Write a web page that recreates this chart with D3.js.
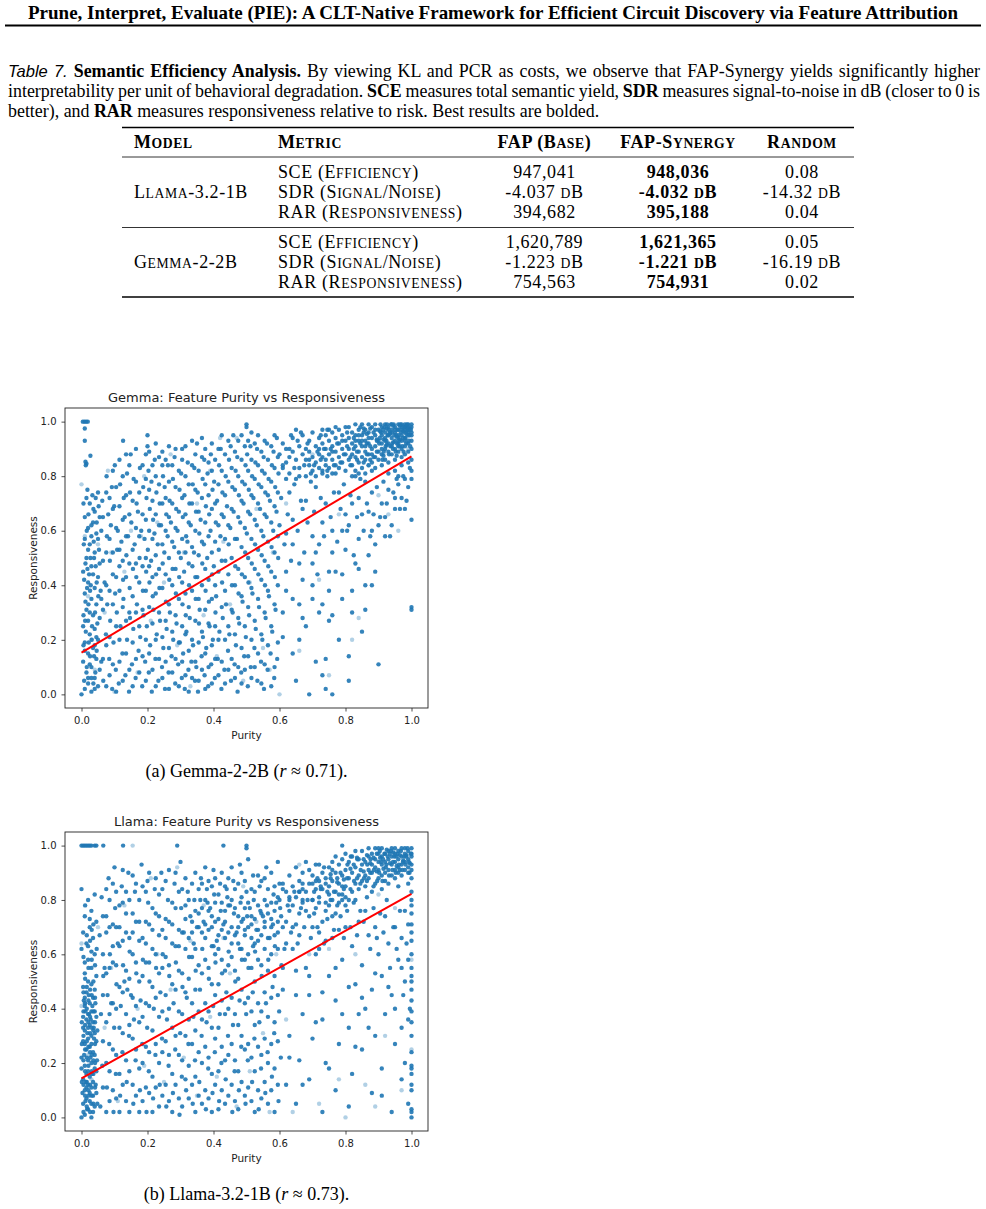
<!DOCTYPE html>
<html>
<head>
<meta charset="utf-8">
<script src="https://cdn.jsdelivr.net/npm/d3@7"></script>
<style>body{margin:0;background:#fff}</style>
</head>
<body>
<svg id="page" width="986" height="1209"></svg>
<script>
var headerTitle = "Prune, Interpret, Evaluate (PIE): A CLT-Native Framework for Efficient Circuit Discovery via Feature Attribution";

// table
var tableHead = ["Model", "Metric", "FAP (Base)", "FAP-Synergy", "Random"];
var tableModels = ["Llama-3.2-1B", "Gemma-2-2B"];
var tableMetrics = ["SCE (Efficiency)", "SDR (Signal/Noise)", "RAR (Responsiveness)"];
var fapBase = ["947,041", "-4.037 dB", "394,682", "1,620,789", "-1.223 dB", "754,563"];
var fapSynergy = ["948,036", "-4.032 dB", "395,188", "1,621,365", "-1.221 dB", "754,931"];
var randomVals = ["0.08", "-14.32 dB", "0.04", "0.05", "-16.19 dB", "0.02"];

var axisTicks = [0, 0.2, 0.4, 0.6, 0.8, 1.0];

// regression line: responsiveness at purity 0 and 1
var gemmaFit = [0.153, 0.873];
var llamaFit = [0.144, 0.822];

// ---- Gemma points (purity, responsiveness) ----
var gemmaTop = [[0.004,1.0],[0.009,1.0],[0.014,1.0],[0.019,1.0],[0.01,0.975],[0.01,0.93],[0.012,0.853],[0.015,0.846],[0.027,0.875],[0.013,0.84]];
var gemmaColumn = [[0.0,0.0],[0.01,0.02],[0.02,0.04],[0.03,0.01],[0.04,0.06],[0.05,0.03],[0.015,0.08],[0.03,0.1],[0.005,0.12],[0.045,0.13],
  [0.02,0.15],[0.035,0.17],[0.01,0.19],[0.05,0.2],[0.025,0.22],[0.04,0.24],[0.005,0.25],[0.02,0.27],[0.035,0.29],[0.015,0.31],
  [0.045,0.33],[0.03,0.35],[0.01,0.37],[0.04,0.39],[0.02,0.41],[0.05,0.43],[0.005,0.45],[0.03,0.47],[0.015,0.5],[0.04,0.52],
  [0.025,0.55],[0.01,0.57],[0.045,0.59],[0.02,0.61],[0.035,0.63],[0.01,0.65],[0.04,0.67],[0.025,0.7],[0.015,0.72],[0.05,0.74],
  [0.03,0.06],[0.055,0.09],[0.01,0.16],[0.04,0.18],[0.025,0.3],[0.055,0.28],[0.02,0.06],[0.045,0.21],[0.035,0.44],[0.055,0.48],
  [0.02,0.53],[0.05,0.57],[0.03,0.62],[0.055,0.65],[0.04,0.02],[0.025,0.11],[0.012,0.34],[0.058,0.38],[0.038,0.14],[0.008,0.05],
  [0.048,0.26],[0.028,0.4],[0.018,0.46],[0.052,0.69],[0.033,0.73],[0.06,0.6],[0.06,0.12],[0.06,0.35],[0.013,0.23],[0.042,0.08],
  [0.022,0.19],[0.006,0.29],[0.032,0.25],[0.017,0.39],[0.043,0.47],[0.007,0.55],[0.027,0.5],[0.037,0.56],
  [0.016,0.1],[0.036,0.04],[0.026,0.14],[0.046,0.16],[0.006,0.18],[0.031,0.2],[0.011,0.27],[0.041,0.3],[0.021,0.33],[0.051,0.36],
  [0.026,0.38],[0.008,0.42],[0.046,0.41],[0.023,0.44],[0.012,0.48],[0.038,0.5],[0.053,0.53],[0.03,0.58],[0.016,0.6],[0.046,0.63],
  [0.021,0.66],[0.036,0.68],[0.006,0.7],[0.043,0.72],[0.018,0.75]];
var gemmaScatter = [[0.066,0.05],[0.074,0.22],[0.07,0.41],[0.077,0.58],[0.063,0.71],
  [0.084,0.13],[0.078,0.33],[0.086,0.49],[0.081,0.66],[0.076,0.8],
  [0.093,0.02],[0.087,0.27],[0.095,0.44],[0.089,0.62],[0.092,0.76],
  [0.104,0.09],[0.097,0.19],[0.102,0.37],[0.108,0.53],[0.099,0.69],[0.101,0.84],
  [0.113,0.04],[0.107,0.3],[0.115,0.47],[0.11,0.6],[0.117,0.77],
  [0.124,0.15],[0.118,0.25],[0.126,0.42],[0.121,0.56],[0.128,0.72],[0.126,0.93],
  [0.133,0.07],[0.127,0.35],[0.136,0.51],[0.131,0.65],[0.138,0.81],
  [0.144,0.01],[0.138,0.2],[0.146,0.39],[0.141,0.58],[0.147,0.74],
  [0.153,0.11],[0.147,0.28],[0.156,0.46],[0.151,0.63],[0.158,0.79],[0.149,0.88],
  [0.164,0.06],[0.157,0.24],[0.166,0.43],[0.161,0.55],[0.167,0.7],
  [0.173,0.16],[0.168,0.33],[0.176,0.5],[0.171,0.67],[0.177,0.83],
  [0.184,0.03],[0.178,0.21],[0.186,0.38],[0.181,0.6],[0.187,0.76],
  [0.193,0.12],[0.188,0.29],[0.196,0.45],[0.191,0.57],[0.197,0.72],[0.2,0.91],
  [0.204,0.08],[0.198,0.25],[0.206,0.41],[0.201,0.53],[0.207,0.68],[0.203,0.82],[0.2,0.95],
  [0.213,0.01],[0.208,0.18],[0.216,0.36],[0.211,0.49],[0.217,0.64],[0.212,0.78],
  [0.224,0.13],[0.218,0.31],[0.226,0.44],[0.221,0.59],[0.227,0.74],[0.222,0.86],
  [0.233,0.05],[0.228,0.22],[0.236,0.39],[0.231,0.55],[0.237,0.7],
  [0.244,0.1],[0.238,0.27],[0.246,0.48],[0.241,0.62],[0.247,0.8],[0.245,0.89],
  [0.253,0.02],[0.248,0.17],[0.256,0.34],[0.251,0.52],[0.257,0.66],[0.252,0.76],
  [0.264,0.08],[0.258,0.24],[0.266,0.42],[0.261,0.58],[0.267,0.71],[0.262,0.84],
  [0.273,0.14],[0.268,0.3],[0.276,0.46],[0.271,0.63],[0.277,0.79],
  [0.284,0.04],[0.278,0.2],[0.286,0.37],[0.281,0.54],[0.287,0.68],[0.282,0.87],
  [0.293,0.11],[0.288,0.26],[0.296,0.43],[0.291,0.6],[0.297,0.75],
  [0.304,0.06],[0.298,0.19],[0.306,0.33],[0.301,0.5],[0.307,0.65],[0.302,0.81],[0.305,0.9],
  [0.313,0.02],[0.308,0.15],[0.316,0.29],[0.311,0.45],[0.317,0.58],[0.312,0.73],
  [0.324,0.09],[0.318,0.23],[0.326,0.4],[0.321,0.56],[0.327,0.7],[0.322,0.85],
  [0.333,0.12],[0.328,0.28],[0.336,0.47],[0.331,0.62],[0.337,0.77],
  [0.344,0.05],[0.338,0.18],[0.346,0.35],[0.341,0.52],[0.347,0.67],[0.342,0.83],
  [0.353,0.01],[0.348,0.1],[0.356,0.26],[0.351,0.43],[0.357,0.59],[0.352,0.74],[0.35,0.92],
  [0.364,0.14],[0.358,0.31],[0.366,0.48],[0.361,0.64],[0.367,0.79],
  [0.373,0.07],[0.368,0.21],[0.376,0.38],[0.371,0.55],[0.377,0.69],[0.372,0.86],
  [0.384,0.03],[0.378,0.17],[0.386,0.34],[0.381,0.5],[0.387,0.66],[0.382,0.81],
  [0.393,0.11],[0.388,0.25],[0.396,0.44],[0.391,0.6],[0.397,0.75],[0.392,0.88],
  [0.404,0.06],[0.398,0.2],[0.406,0.3],[0.401,0.47],[0.407,0.63],[0.402,0.78],
  [0.413,0.13],[0.408,0.36],[0.416,0.53],[0.411,0.71],[0.417,0.84],
  [0.424,0.02],[0.418,0.23],[0.426,0.41],[0.421,0.58],[0.427,0.74],[0.422,0.9],
  [0.433,0.09],[0.428,0.28],[0.436,0.49],[0.431,0.65],[0.437,0.8],
  [0.444,0.16],[0.438,0.33],[0.446,0.55],[0.441,0.69],[0.447,0.86],
  [0.453,0.05],[0.448,0.22],[0.456,0.4],[0.451,0.61],[0.457,0.76],[0.452,0.91],
  [0.464,0.11],[0.458,0.3],[0.466,0.47],[0.461,0.67],[0.467,0.82],[0.46,0.95],
  [0.473,0.01],[0.468,0.18],[0.476,0.37],[0.471,0.57],[0.477,0.73],[0.472,0.87],
  [0.484,0.08],[0.478,0.26],[0.486,0.44],[0.481,0.63],[0.487,0.78],
  [0.493,0.14],[0.488,0.34],[0.496,0.52],[0.491,0.7],[0.497,0.84],
  [0.504,0.03],[0.498,0.21],[0.506,0.41],[0.501,0.59],[0.507,0.75],[0.502,0.88],[0.5,0.98],[0.5,0.99],
  [0.513,0.1],[0.508,0.29],[0.516,0.48],[0.511,0.66],[0.517,0.8],[0.512,0.91],
  [0.524,0.17],[0.518,0.37],[0.526,0.55],[0.521,0.72],[0.527,0.85],
  [0.533,0.05],[0.528,0.24],[0.536,0.44],[0.531,0.62],[0.537,0.77],[0.532,0.9],
  [0.544,0.12],[0.538,0.32],[0.546,0.51],[0.541,0.68],[0.547,0.82],
  [0.553,0.02],[0.548,0.2],[0.556,0.4],[0.551,0.58],[0.557,0.74],[0.552,0.87],
  [0.564,0.09],[0.558,0.28],[0.566,0.47],[0.561,0.65],[0.567,0.79],[0.562,0.92],
  [0.573,0.15],[0.568,0.36],[0.576,0.54],[0.571,0.71],[0.577,0.84],
  [0.584,0.06],[0.578,0.23],[0.586,0.43],[0.581,0.6],[0.587,0.76],[0.582,0.89],
  [0.593,0.13],[0.588,0.31],[0.596,0.5],[0.591,0.67],[0.597,0.81],[0.592,0.94]];
var gemmaScatter2 = [[0.065,0.13],[0.065,0.31],[0.065,0.49],[0.065,0.65],
  [0.075,0.03],[0.075,0.18],[0.075,0.4],[0.075,0.52],[0.075,0.74],
  [0.085,0.07],[0.085,0.21],[0.085,0.38],[0.085,0.57],[0.085,0.72],
  [0.095,0.11],[0.095,0.33],[0.095,0.52],[0.095,0.68],[0.095,0.82],
  [0.105,0.01],[0.105,0.25],[0.105,0.43],[0.105,0.61],[0.105,0.76],
  [0.115,0.12],[0.115,0.2],[0.115,0.38],[0.115,0.53],[0.115,0.69],[0.115,0.86],
  [0.125,0.05],[0.125,0.32],[0.125,0.49],[0.125,0.64],[0.125,0.8],
  [0.135,0.15],[0.135,0.27],[0.135,0.43],[0.135,0.58],[0.135,0.73],[0.135,0.88],
  [0.145,0.09],[0.145,0.3],[0.145,0.48],[0.145,0.66],[0.145,0.84],
  [0.155,0.03],[0.155,0.19],[0.155,0.36],[0.155,0.53],[0.155,0.71],
  [0.165,0.13],[0.165,0.3],[0.165,0.48],[0.165,0.61],[0.165,0.78],[0.165,0.9],
  [0.175,0.08],[0.175,0.25],[0.175,0.41],[0.175,0.58],[0.175,0.74],
  [0.185,0.14],[0.185,0.31],[0.185,0.47],[0.185,0.66],[0.185,0.84],
  [0.195,0.05],[0.195,0.2],[0.195,0.38],[0.195,0.5],[0.195,0.64],[0.195,0.79],[0.195,0.88],
  [0.205,0.15],[0.205,0.32],[0.205,0.47],[0.205,0.6],[0.205,0.75],[0.205,0.89],
  [0.215,0.09],[0.215,0.26],[0.215,0.43],[0.215,0.57],[0.215,0.71],[0.215,0.84],
  [0.225,0.03],[0.225,0.2],[0.225,0.37],[0.225,0.51],[0.225,0.66],[0.225,0.8],[0.225,0.92],
  [0.235,0.13],[0.235,0.3],[0.235,0.46],[0.235,0.62],[0.235,0.77],[0.235,0.87],
  [0.245,0.06],[0.245,0.21],[0.245,0.39],[0.245,0.55],[0.245,0.7],[0.245,0.84],
  [0.255,0.12],[0.255,0.27],[0.255,0.44],[0.255,0.6],[0.255,0.72],[0.255,0.86],
  [0.265,0.02],[0.265,0.17],[0.265,0.33],[0.265,0.5],[0.265,0.65],[0.265,0.78],[0.265,0.91],
  [0.275,0.08],[0.275,0.23],[0.275,0.4],[0.275,0.56],[0.275,0.7],[0.275,0.84],
  [0.285,0.13],[0.285,0.29],[0.285,0.46],[0.285,0.61],[0.285,0.76],[0.285,0.9],
  [0.295,0.03],[0.295,0.19],[0.295,0.35],[0.295,0.52],[0.295,0.67],[0.295,0.82],
  [0.305,0.12],[0.305,0.25],[0.305,0.41],[0.305,0.57],[0.305,0.72],[0.305,0.86],
  [0.315,0.07],[0.315,0.22],[0.315,0.37],[0.315,0.52],[0.315,0.66],[0.315,0.8],[0.315,0.91],
  [0.325,0.01],[0.325,0.16],[0.325,0.32],[0.325,0.48],[0.325,0.63],[0.325,0.77],
  [0.335,0.06],[0.335,0.2],[0.335,0.38],[0.335,0.54],[0.335,0.7],[0.335,0.84],[0.335,0.93],
  [0.345,0.12],[0.345,0.27],[0.345,0.43],[0.345,0.6],[0.345,0.75],[0.345,0.88],
  [0.355,0.05],[0.355,0.19],[0.355,0.35],[0.355,0.51],[0.355,0.67],[0.355,0.82],
  [0.365,0.09],[0.365,0.23],[0.365,0.4],[0.365,0.56],[0.365,0.72],[0.365,0.87],[0.365,0.94],
  [0.375,0.02],[0.375,0.15],[0.375,0.31],[0.375,0.46],[0.375,0.63],[0.375,0.77],[0.375,0.9],
  [0.385,0.1],[0.385,0.26],[0.385,0.42],[0.385,0.58],[0.385,0.73],[0.385,0.85],
  [0.395,0.04],[0.395,0.18],[0.395,0.35],[0.395,0.52],[0.395,0.68],[0.395,0.82],[0.395,0.92],
  [0.405,0.13],[0.405,0.25],[0.405,0.4],[0.405,0.56],[0.405,0.7],[0.405,0.86],
  [0.415,0.07],[0.415,0.2],[0.415,0.45],[0.415,0.62],[0.415,0.77],[0.415,0.9],
  [0.425,0.12],[0.425,0.32],[0.425,0.49],[0.425,0.66],[0.425,0.82],[0.425,0.95],
  [0.435,0.04],[0.435,0.2],[0.435,0.38],[0.435,0.57],[0.435,0.73],[0.435,0.88],
  [0.445,0.09],[0.445,0.25],[0.445,0.44],[0.445,0.62],[0.445,0.78],[0.445,0.93],
  [0.455,0.13],[0.455,0.31],[0.455,0.5],[0.455,0.68],[0.455,0.83],
  [0.465,0.06],[0.465,0.22],[0.465,0.4],[0.465,0.57],[0.465,0.75],[0.465,0.89],
  [0.475,0.1],[0.475,0.28],[0.475,0.46],[0.475,0.65],[0.475,0.8],[0.475,0.93],
  [0.485,0.04],[0.485,0.17],[0.485,0.36],[0.485,0.54],[0.485,0.71],[0.485,0.86],[0.485,0.95],
  [0.495,0.09],[0.495,0.25],[0.495,0.43],[0.495,0.61],[0.495,0.77],[0.495,0.91],
  [0.505,0.14],[0.505,0.32],[0.505,0.5],[0.505,0.67],[0.505,0.82],[0.505,0.93],
  [0.515,0.06],[0.515,0.2],[0.515,0.39],[0.515,0.57],[0.515,0.73],[0.515,0.86],[0.515,0.96],
  [0.525,0.1],[0.525,0.27],[0.525,0.46],[0.525,0.64],[0.525,0.79],[0.525,0.92],
  [0.535,0.15],[0.535,0.35],[0.535,0.53],[0.535,0.7],[0.535,0.84],[0.535,0.95],
  [0.545,0.04],[0.545,0.22],[0.545,0.42],[0.545,0.6],[0.545,0.76],[0.545,0.89],
  [0.555,0.11],[0.555,0.3],[0.555,0.49],[0.555,0.66],[0.555,0.81],[0.555,0.93],
  [0.565,0.18],[0.565,0.38],[0.565,0.56],[0.565,0.73],[0.565,0.86],
  [0.575,0.03],[0.575,0.25],[0.575,0.45],[0.575,0.63],[0.575,0.78],[0.575,0.91],
  [0.585,0.1],[0.585,0.33],[0.585,0.52],[0.585,0.69],[0.585,0.83],[0.585,0.95],
  [0.595,0.19],[0.595,0.4],[0.595,0.58],[0.595,0.74],[0.595,0.87]];
var gemmaRight = [[0.61,0.21],[0.62,0.45],[0.6,0.62],[0.63,0.74],[0.61,0.83],[0.64,0.15],[0.65,0.05],[0.66,0.33],[0.64,0.55],[0.67,0.68],
  [0.65,0.79],[0.68,0.25],[0.69,0.0],[0.67,0.42],[0.7,0.58],[0.68,0.71],[0.69,0.86],[0.62,0.38],[0.66,0.2],[0.63,0.9],
  [0.71,0.12],[0.72,0.3],[0.7,0.48],[0.73,0.63],[0.71,0.76],[0.74,0.02],[0.73,0.07],[0.74,0.13],[0.75,0.38],[0.76,0.52],
  [0.74,0.7],[0.77,0.81],[0.76,0.0],[0.78,0.2],[0.77,0.45],[0.79,0.6],[0.78,0.74],[0.75,0.27],[0.72,0.55],[0.79,0.35],
  [0.8,0.66],[0.73,0.82],[0.81,0.05],[0.81,0.14],[0.82,0.3],[0.83,0.48],[0.81,0.62],[0.84,0.72],[0.85,0.23],[0.86,0.4],
  [0.84,0.57],[0.87,0.67],[0.88,0.4],[0.86,0.78],[0.89,0.55],[0.88,0.74],[0.83,0.8],[0.9,0.11],[0.9,0.62],[0.87,0.51],
  [0.82,0.7],[0.91,0.7],[0.92,0.58],[0.93,0.75],[0.95,0.68],[0.96,0.8],[0.94,0.62],[0.97,0.72],[0.98,0.79],[0.99,0.76],
  [1.0,0.79],[1.0,0.64],[1.0,0.32],[1.0,0.31],[0.96,0.77],[0.93,0.81],[0.64,0.64],[0.7,0.35],[0.76,0.6],[0.85,0.66],
  [0.605,0.72],[0.615,0.55],[0.625,0.66],[0.635,0.49],[0.645,0.77],[0.655,0.6],[0.665,0.71],[0.675,0.52],[0.685,0.63],[0.695,0.78],
  [0.705,0.67],[0.715,0.44],[0.725,0.72],[0.735,0.58],[0.745,0.8],[0.755,0.65],[0.765,0.74],[0.775,0.56],[0.785,0.68],[0.795,0.77],
  [0.805,0.6],[0.815,0.73],[0.825,0.51],[0.835,0.65],[0.845,0.79],[0.855,0.6],[0.865,0.7],[0.875,0.58],[0.885,0.66],[0.895,0.76],
  [0.905,0.65],[0.915,0.78],[0.925,0.7],[0.935,0.58],[0.945,0.74],[0.955,0.79],[0.965,0.68],[0.975,0.8],[0.985,0.71],[0.995,0.83],
  [0.61,0.3],[0.64,0.35],[0.67,0.28],[0.7,0.4],[0.73,0.33],[0.76,0.29],[0.79,0.44],[0.82,0.38],[0.86,0.31],[0.89,0.45],
  [0.62,0.59],[0.66,0.48],[0.71,0.52],[0.75,0.45],[0.8,0.53],[0.84,0.46],[0.88,0.6],[0.92,0.65],[0.95,0.72],[0.98,0.68]];
var gemmaBlob = [[0.6,0.88],[0.61,0.92],[0.62,0.85],[0.63,0.81],[0.64,0.89],[0.64,0.94],[0.65,0.86],[0.66,0.91],[0.66,0.83],[0.67,0.88],
  [0.67,0.95],[0.68,0.8],[0.68,0.9],[0.69,0.84],[0.69,0.93],[0.7,0.87],[0.7,0.96],[0.62,0.79],[0.65,0.97],[0.63,0.87],
  [0.61,0.84],[0.66,0.8],[0.68,0.86],[0.7,0.82],[0.69,0.89],
  [0.71,0.85],[0.71,0.91],[0.72,0.88],[0.72,0.94],[0.72,0.83],[0.73,0.87],[0.73,0.92],[0.73,0.97],[0.74,0.86],[0.74,0.9],
  [0.74,0.95],[0.75,0.83],[0.75,0.88],[0.75,0.93],[0.76,0.86],[0.76,0.91],[0.76,0.96],[0.77,0.84],[0.77,0.89],[0.77,0.94],
  [0.78,0.87],[0.78,0.92],[0.78,0.97],[0.79,0.85],[0.79,0.9],[0.79,0.95],[0.8,0.88],[0.8,0.93],[0.8,0.82],[0.8,0.98],
  [0.71,0.8],[0.73,0.81],[0.76,0.81],[0.78,0.83],[0.75,0.97],[0.77,0.98],[0.72,0.9],[0.74,0.84],[0.79,0.93],[0.76,0.89],
  [0.81,0.86],[0.81,0.9],[0.81,0.94],[0.82,0.88],[0.82,0.92],[0.82,0.96],[0.82,0.84],[0.83,0.87],[0.83,0.91],[0.83,0.95],
  [0.83,0.99],[0.84,0.85],[0.84,0.89],[0.84,0.93],[0.84,0.97],[0.85,0.87],[0.85,0.91],[0.85,0.95],[0.85,0.83],[0.86,0.89],
  [0.86,0.93],[0.86,0.97],[0.86,0.86],[0.87,0.88],[0.87,0.92],[0.87,0.96],[0.87,0.99],[0.88,0.85],[0.88,0.9],[0.88,0.94],
  [0.88,0.98],[0.89,0.87],[0.89,0.91],[0.89,0.95],[0.89,0.83],[0.9,0.89],[0.9,0.93],[0.9,0.97],[0.9,0.86],[0.81,0.98],
  [0.84,0.81],[0.86,0.81],[0.87,0.84],[0.85,0.99],[0.83,0.82],[0.88,0.82],[0.89,0.99],[0.82,0.8],[0.86,0.91],[0.84,0.95],
  [0.87,0.94],[0.88,0.88],[0.85,0.93],[0.83,0.93],[0.89,0.97],
  [0.91,0.88],[0.91,0.92],[0.91,0.95],[0.91,0.98],[0.92,0.9],[0.92,0.93],[0.92,0.96],[0.92,0.99],[0.92,0.86],[0.93,0.89],
  [0.93,0.92],[0.93,0.95],[0.93,0.98],[0.94,0.88],[0.94,0.91],[0.94,0.94],[0.94,0.97],[0.94,0.99],[0.95,0.9],[0.95,0.93],
  [0.95,0.96],[0.95,0.98],[0.95,0.86],[0.96,0.89],[0.96,0.92],[0.96,0.95],[0.96,0.97],[0.96,0.99],[0.97,0.9],[0.97,0.93],
  [0.97,0.95],[0.97,0.97],[0.97,0.99],[0.97,0.87],[0.98,0.91],[0.98,0.94],[0.98,0.96],[0.98,0.98],[0.98,0.99],[0.98,0.88],
  [0.99,0.92],[0.99,0.95],[0.99,0.97],[0.99,0.98],[0.99,0.99],[0.99,0.89],[1.0,0.93],[1.0,0.96],[1.0,0.98],[1.0,0.99],
  [1.0,0.9],[1.0,0.86],[0.91,0.84],[0.93,0.85],[0.95,0.82],[0.97,0.84],[0.99,0.85],[1.0,0.82],[0.92,0.94],[0.94,0.96],
  [0.96,0.94],[0.98,0.97],[0.95,0.97],[0.97,0.98],[0.99,0.96],[0.93,0.97],[0.91,0.9],[0.96,0.91],[0.98,0.93],[1.0,0.95],
  [0.905,0.965],[0.915,0.935],[0.925,0.975],[0.935,0.955],[0.945,0.985],[0.955,0.945],[0.965,0.985],[0.975,0.965],[0.985,0.985],[0.995,0.975],
  [0.925,0.915],[0.945,0.925],[0.965,0.935],[0.985,0.955],[0.875,0.975],[0.865,0.955],[0.855,0.975],[0.895,0.935],[0.915,0.875],[0.955,0.875],
  [0.705,0.84],[0.715,0.89],[0.725,0.86],[0.735,0.9],[0.745,0.82],[0.755,0.9],[0.765,0.84],[0.775,0.92],[0.785,0.85],[0.795,0.88],
  [0.805,0.91],[0.815,0.84],[0.825,0.94],[0.835,0.89],[0.845,0.92],[0.855,0.85],[0.865,0.88],[0.875,0.91],[0.885,0.87],[0.895,0.93],
  [0.805,0.96],[0.815,0.87],[0.825,0.9],[0.835,0.86],[0.845,0.98],[0.855,0.96],[0.865,0.92],[0.875,0.86],[0.885,0.96],[0.895,0.89],
  [0.902,0.92],[0.908,0.96],[0.912,0.86],[0.918,0.98],[0.922,0.91],[0.928,0.95],[0.932,0.88],[0.938,0.99],[0.942,0.92],[0.948,0.95],
  [0.952,0.89],[0.958,0.97],[0.962,0.93],[0.968,0.96],[0.972,0.91],[0.978,0.98],[0.982,0.94],[0.988,0.97],[0.992,0.93],[0.998,0.97],
  [0.904,0.94],[0.914,0.97],[0.924,0.93],[0.934,0.96],[0.944,0.9],[0.954,0.95],[0.964,0.91],[0.974,0.94],[0.984,0.92],[0.994,0.95],
  [0.906,0.99],[0.926,0.99],[0.946,0.99],[0.966,0.99],[0.986,0.99],[0.916,0.89],[0.936,0.91],[0.956,0.92],[0.976,0.89],[0.996,0.91],
  [0.62,0.9],[0.645,0.83],[0.655,0.93],[0.675,0.84],[0.685,0.92],[0.695,0.81],[0.635,0.95],[0.665,0.96],[0.725,0.95],[0.745,0.97]];
var gemmaLight = [[0.0,0.77],[0.01,0.58],[0.03,0.2],[0.02,0.36],[0.04,0.09],[0.07,0.3],[0.09,0.52],[0.1,0.01],[0.13,0.45],[0.15,0.6],
  [0.17,0.08],[0.19,0.8],[0.21,0.27],[0.23,0.63],[0.25,0.41],[0.27,0.88],[0.29,0.18],[0.31,0.52],[0.33,0.03],[0.35,0.7],
  [0.37,0.29],[0.39,0.82],[0.41,0.14],[0.43,0.56],[0.45,0.33],[0.47,0.94],[0.49,0.05],[0.51,0.41],[0.53,0.68],[0.55,0.17],
  [0.57,0.09],[0.58,0.52],[0.6,0.0],[0.62,0.7],[0.66,0.16],[0.7,0.88],[0.72,0.42],[0.75,0.07],[0.78,0.66],[0.82,0.2],
  [0.84,0.28],[0.87,0.84],[0.9,0.73],[0.93,0.66],[0.96,0.6],[0.99,0.9],[0.42,0.94],[0.18,0.58],[0.08,0.82],[0.05,0.55]];

// ---- Llama points (purity, responsiveness) ----
var llamaTop = [[0.0,1.0],[0.005,1.0],[0.01,1.0],[0.015,1.0],[0.02,1.0],[0.025,1.0],[0.03,1.0],[0.04,1.0],[0.045,1.0],[0.066,1.0],
  [0.126,1.0],[0.29,1.0],[0.43,1.0],[0.5,1.0],[0.5,0.99],[0.79,1.0]];
var llamaColumn = [[0.0,0.0],[0.01,0.01],[0.02,0.03],[0.03,0.0],[0.005,0.05],[0.015,0.07],[0.025,0.06],[0.035,0.08],[0.04,0.04],[0.01,0.1],
  [0.02,0.12],[0.03,0.11],[0.005,0.14],[0.015,0.16],[0.025,0.15],[0.035,0.13],[0.045,0.17],[0.01,0.19],[0.02,0.21],[0.03,0.2],
  [0.0,0.22],[0.04,0.23],[0.015,0.25],[0.025,0.26],[0.035,0.24],[0.005,0.28],[0.02,0.29],[0.03,0.3],[0.01,0.32],[0.04,0.31],
  [0.025,0.34],[0.015,0.36],[0.035,0.35],[0.005,0.37],[0.02,0.38],[0.03,0.39],[0.045,0.37],[0.01,0.41],[0.025,0.42],[0.035,0.44],
  [0.015,0.46],[0.005,0.48],[0.03,0.49],[0.02,0.5],[0.04,0.47],[0.01,0.27],[0.02,0.17],[0.03,0.05],[0.04,0.18],[0.005,0.33],
  [0.045,0.28],[0.035,0.02],[0.015,0.11],[0.025,0.09],[0.0,0.18],[0.04,0.39],[0.01,0.44],[0.02,0.33],[0.03,0.27],[0.045,0.09],
  [0.012,0.06],[0.022,0.08],[0.032,0.16],[0.008,0.23],[0.018,0.31],[0.028,0.36],[0.038,0.29],[0.012,0.39],[0.022,0.45],[0.042,0.42],
  [0.027,0.22],[0.017,0.03],[0.037,0.33],[0.007,0.43],[0.047,0.21],[0.023,0.38],[0.033,0.41],[0.013,0.13],[0.043,0.12],[0.003,0.09],
  [0.01,0.53],[0.03,0.55],[0.02,0.58],[0.04,0.6],[0.0,0.62],[0.015,0.64],[0.035,0.66],[0.005,0.68],[0.025,0.7],[0.045,0.72],
  [0.01,0.74],[0.03,0.76],[0.02,0.8],[0.04,0.82],[0.0,0.84],[0.02,0.63],[0.03,0.61],[0.01,0.57],[0.045,0.52],[0.025,0.73],
  [0.006,0.02],[0.016,0.04],[0.026,0.02],[0.036,0.05],[0.011,0.08],[0.021,0.1],[0.031,0.08],[0.041,0.11],[0.006,0.12],[0.016,0.13],
  [0.026,0.12],[0.036,0.16],[0.011,0.17],[0.021,0.19],[0.031,0.17],[0.041,0.2],[0.006,0.21],[0.016,0.22],[0.026,0.24],[0.036,0.21],
  [0.011,0.25],[0.021,0.26],[0.031,0.23],[0.041,0.27],[0.006,0.3],[0.016,0.28],[0.026,0.31],[0.036,0.32],[0.011,0.34],[0.021,0.35],
  [0.031,0.33],[0.041,0.35],[0.006,0.39],[0.016,0.4],[0.026,0.37],[0.036,0.39],[0.011,0.42],[0.021,0.43],[0.031,0.45],[0.041,0.44],
  [0.006,0.46],[0.016,0.48],[0.026,0.47],[0.036,0.5],[0.011,0.51],[0.021,0.55],[0.031,0.58],[0.041,0.56],[0.006,0.59],[0.016,0.67],
  [0.026,0.65],[0.036,0.71],[0.011,0.78],[0.031,0.69],[0.046,0.62],[0.001,0.35],[0.001,0.27],[0.001,0.13],[0.048,0.05],[0.048,0.32]];
var llamaScatter = [[0.057,0.04],[0.063,0.19],[0.059,0.38],[0.066,0.52],[0.055,0.67],[0.061,0.81],
  [0.077,0.11],[0.084,0.27],[0.079,0.45],[0.086,0.6],[0.075,0.74],[0.082,0.88],
  [0.097,0.02],[0.104,0.16],[0.099,0.33],[0.106,0.49],[0.095,0.63],[0.102,0.77],[0.1,0.92],
  [0.117,0.08],[0.124,0.24],[0.119,0.41],[0.126,0.56],[0.115,0.7],[0.122,0.85],
  [0.137,0.13],[0.144,0.3],[0.139,0.47],[0.146,0.61],[0.135,0.75],[0.142,0.9],
  [0.157,0.05],[0.164,0.21],[0.159,0.36],[0.166,0.53],[0.155,0.68],[0.162,0.83],
  [0.177,0.1],[0.184,0.27],[0.179,0.43],[0.186,0.58],[0.175,0.72],[0.182,0.93],
  [0.197,0.02],[0.204,0.17],[0.199,0.33],[0.206,0.5],[0.195,0.64],[0.202,0.79],[0.2,0.87],
  [0.217,0.07],[0.224,0.23],[0.219,0.4],[0.226,0.55],[0.215,0.69],[0.222,0.84],
  [0.237,0.12],[0.244,0.29],[0.239,0.46],[0.246,0.6],[0.235,0.74],[0.242,0.9],
  [0.257,0.04],[0.264,0.19],[0.259,0.36],[0.266,0.52],[0.255,0.66],[0.262,0.8],
  [0.277,0.09],[0.284,0.25],[0.279,0.42],[0.286,0.57],[0.275,0.71],[0.282,0.86],
  [0.297,0.01],[0.304,0.15],[0.299,0.31],[0.306,0.48],[0.295,0.63],[0.302,0.77],[0.3,0.94],
  [0.317,0.1],[0.324,0.27],[0.319,0.44],[0.326,0.59],[0.315,0.73],[0.322,0.83],
  [0.337,0.05],[0.344,0.21],[0.339,0.37],[0.346,0.54],[0.335,0.68],[0.342,0.8],
  [0.357,0.13],[0.364,0.3],[0.359,0.47],[0.366,0.62],[0.355,0.75],[0.362,0.88],
  [0.377,0.03],[0.384,0.18],[0.379,0.35],[0.386,0.51],[0.375,0.66],[0.382,0.79],[0.38,0.84],
  [0.397,0.09],[0.404,0.24],[0.399,0.41],[0.406,0.57],[0.395,0.7],[0.402,0.82],[0.4,0.91],
  [0.417,0.06],[0.424,0.2],[0.419,0.38],[0.426,0.53],[0.415,0.67],[0.422,0.76],[0.42,0.86],
  [0.437,0.14],[0.444,0.3],[0.439,0.46],[0.446,0.61],[0.435,0.72],[0.442,0.81],
  [0.457,0.02],[0.464,0.17],[0.459,0.34],[0.466,0.5],[0.455,0.64],[0.462,0.75],[0.46,0.87],
  [0.477,0.1],[0.484,0.26],[0.479,0.43],[0.486,0.58],[0.475,0.7],[0.482,0.79],[0.48,0.93],
  [0.497,0.05],[0.504,0.21],[0.499,0.38],[0.506,0.55],[0.495,0.67],[0.502,0.74],[0.5,0.83],
  [0.517,0.13],[0.524,0.29],[0.519,0.46],[0.526,0.61],[0.515,0.71],[0.522,0.8],[0.52,0.89],
  [0.537,0.03],[0.544,0.18],[0.539,0.35],[0.546,0.52],[0.535,0.65],[0.542,0.76],[0.54,0.85],
  [0.557,0.09],[0.564,0.24],[0.559,0.42],[0.566,0.58],[0.555,0.7],[0.562,0.78],[0.56,0.92],
  [0.577,0.15],[0.584,0.31],[0.579,0.48],[0.586,0.63],[0.575,0.73],[0.582,0.82],
  [0.597,0.06],[0.604,0.22],[0.599,0.39],[0.606,0.56],[0.595,0.68],[0.602,0.77],[0.6,0.86]];
var llamaScatter2 = [[0.065,0.11],[0.065,0.28],[0.065,0.45],[0.065,0.6],[0.065,0.74],
  [0.075,0.02],[0.075,0.2],[0.075,0.35],[0.075,0.53],[0.075,0.68],[0.075,0.84],
  [0.085,0.06],[0.085,0.17],[0.085,0.38],[0.085,0.55],[0.085,0.7],[0.085,0.8],
  [0.095,0.1],[0.095,0.25],[0.095,0.42],[0.095,0.57],[0.095,0.71],[0.095,0.86],
  [0.105,0.07],[0.105,0.23],[0.105,0.4],[0.105,0.56],[0.105,0.7],[0.105,0.83],
  [0.115,0.02],[0.115,0.16],[0.115,0.33],[0.115,0.48],[0.115,0.63],[0.115,0.78],
  [0.125,0.12],[0.125,0.31],[0.125,0.46],[0.125,0.65],[0.125,0.79],[0.125,0.91],
  [0.135,0.06],[0.135,0.21],[0.135,0.38],[0.135,0.54],[0.135,0.68],[0.135,0.83],
  [0.145,0.02],[0.145,0.17],[0.145,0.34],[0.145,0.51],[0.145,0.66],[0.145,0.8],
  [0.155,0.12],[0.155,0.29],[0.155,0.44],[0.155,0.6],[0.155,0.75],[0.155,0.89],
  [0.165,0.08],[0.165,0.25],[0.165,0.41],[0.165,0.57],[0.165,0.72],[0.165,0.86],
  [0.175,0.02],[0.175,0.18],[0.175,0.35],[0.175,0.5],[0.175,0.65],[0.175,0.8],
  [0.185,0.06],[0.185,0.2],[0.185,0.37],[0.185,0.52],[0.185,0.66],[0.185,0.85],
  [0.195,0.11],[0.195,0.26],[0.195,0.42],[0.195,0.57],[0.195,0.72],[0.195,0.83],
  [0.205,0.09],[0.205,0.24],[0.205,0.41],[0.205,0.57],[0.205,0.71],[0.205,0.9],
  [0.215,0.02],[0.215,0.15],[0.215,0.32],[0.215,0.48],[0.215,0.62],[0.215,0.77],
  [0.225,0.11],[0.225,0.27],[0.225,0.44],[0.225,0.6],[0.225,0.75],[0.225,0.88],
  [0.235,0.04],[0.235,0.2],[0.235,0.37],[0.235,0.53],[0.235,0.67],[0.235,0.82],
  [0.245,0.08],[0.245,0.24],[0.245,0.39],[0.245,0.55],[0.245,0.69],[0.245,0.84],
  [0.255,0.12],[0.255,0.28],[0.255,0.45],[0.255,0.59],[0.255,0.73],[0.255,0.87],
  [0.265,0.06],[0.265,0.23],[0.265,0.4],[0.265,0.56],[0.265,0.72],[0.265,0.91],
  [0.275,0.02],[0.275,0.16],[0.275,0.33],[0.275,0.49],[0.275,0.64],[0.275,0.79],
  [0.285,0.12],[0.285,0.3],[0.285,0.47],[0.285,0.63],[0.285,0.77],[0.285,0.9],
  [0.295,0.07],[0.295,0.23],[0.295,0.39],[0.295,0.54],[0.295,0.69],[0.295,0.83],
  [0.305,0.04],[0.305,0.21],[0.305,0.38],[0.305,0.53],[0.305,0.68],[0.305,0.84],
  [0.315,0.14],[0.315,0.3],[0.315,0.46],[0.315,0.62],[0.315,0.78],[0.315,0.88],
  [0.325,0.07],[0.325,0.19],[0.325,0.36],[0.325,0.51],[0.325,0.66],[0.325,0.8],
  [0.335,0.12],[0.335,0.27],[0.335,0.42],[0.335,0.59],[0.335,0.72],[0.335,0.86],
  [0.345,0.02],[0.345,0.15],[0.345,0.32],[0.345,0.47],[0.345,0.62],[0.345,0.76],[0.345,0.9],
  [0.355,0.08],[0.355,0.24],[0.355,0.39],[0.355,0.56],[0.355,0.7],[0.355,0.84],
  [0.365,0.05],[0.365,0.2],[0.365,0.36],[0.365,0.53],[0.365,0.68],[0.365,0.77],[0.365,0.86],
  [0.375,0.1],[0.375,0.26],[0.375,0.42],[0.375,0.58],[0.375,0.71],[0.375,0.8],[0.375,0.92],
  [0.385,0.07],[0.385,0.22],[0.385,0.39],[0.385,0.55],[0.385,0.69],[0.385,0.76],[0.385,0.87],
  [0.395,0.02],[0.395,0.16],[0.395,0.33],[0.395,0.49],[0.395,0.63],[0.395,0.74],[0.395,0.85],
  [0.405,0.12],[0.405,0.29],[0.405,0.45],[0.405,0.6],[0.405,0.72],[0.405,0.79],[0.405,0.88],
  [0.415,0.03],[0.415,0.17],[0.415,0.33],[0.415,0.49],[0.415,0.62],[0.415,0.73],[0.415,0.82],
  [0.425,0.1],[0.425,0.26],[0.425,0.43],[0.425,0.58],[0.425,0.69],[0.425,0.79],[0.425,0.9],
  [0.435,0.05],[0.435,0.21],[0.435,0.38],[0.435,0.54],[0.435,0.66],[0.435,0.76],[0.435,0.85],
  [0.445,0.08],[0.445,0.23],[0.445,0.4],[0.445,0.56],[0.445,0.68],[0.445,0.78],[0.445,0.88],
  [0.455,0.12],[0.455,0.27],[0.455,0.44],[0.455,0.59],[0.455,0.7],[0.455,0.8],[0.455,0.92],
  [0.465,0.06],[0.465,0.21],[0.465,0.38],[0.465,0.54],[0.465,0.67],[0.465,0.77],[0.465,0.84],
  [0.475,0.03],[0.475,0.17],[0.475,0.34],[0.475,0.51],[0.475,0.64],[0.475,0.74],[0.475,0.86],
  [0.485,0.13],[0.485,0.3],[0.485,0.47],[0.485,0.62],[0.485,0.72],[0.485,0.81],[0.485,0.9],
  [0.495,0.08],[0.495,0.25],[0.495,0.42],[0.495,0.58],[0.495,0.69],[0.495,0.77],[0.495,0.87],
  [0.505,0.11],[0.505,0.27],[0.505,0.44],[0.505,0.6],[0.505,0.7],[0.505,0.79],[0.505,0.95],
  [0.515,0.06],[0.515,0.22],[0.515,0.39],[0.515,0.55],[0.515,0.66],[0.515,0.74],[0.515,0.84],
  [0.525,0.02],[0.525,0.17],[0.525,0.34],[0.525,0.5],[0.525,0.64],[0.525,0.73],[0.525,0.83],
  [0.535,0.1],[0.535,0.26],[0.535,0.42],[0.535,0.58],[0.535,0.69],[0.535,0.78],[0.535,0.89],
  [0.545,0.07],[0.545,0.23],[0.545,0.39],[0.545,0.56],[0.545,0.67],[0.545,0.75],[0.545,0.87],
  [0.555,0.13],[0.555,0.29],[0.555,0.46],[0.555,0.62],[0.555,0.72],[0.555,0.8],[0.555,0.88],
  [0.565,0.05],[0.565,0.2],[0.565,0.37],[0.565,0.54],[0.565,0.66],[0.565,0.75],[0.565,0.84],
  [0.575,0.1],[0.575,0.27],[0.575,0.44],[0.575,0.6],[0.575,0.7],[0.575,0.79],[0.575,0.9],
  [0.585,0.02],[0.585,0.18],[0.585,0.35],[0.585,0.52],[0.585,0.67],[0.585,0.76],[0.585,0.85],
  [0.595,0.12],[0.595,0.28],[0.595,0.45],[0.595,0.62],[0.595,0.72],[0.595,0.81],[0.595,0.94]];
var llamaBand = [[0.31,0.68],[0.33,0.74],[0.35,0.7],[0.37,0.72],[0.39,0.77],[0.41,0.65],[0.43,0.71],[0.45,0.78],[0.47,0.68],[0.49,0.73],
  [0.51,0.77],[0.53,0.69],[0.55,0.74],[0.57,0.66],[0.59,0.79],[0.61,0.7],[0.63,0.76],[0.65,0.71],[0.67,0.8],[0.69,0.74],
  [0.71,0.77],[0.73,0.72],[0.75,0.78],[0.77,0.75],[0.79,0.8],[0.36,0.8],[0.44,0.84],[0.52,0.63],[0.58,0.71],[0.66,0.83],
  [0.72,0.68],[0.48,0.62],[0.4,0.63],[0.34,0.64],[0.62,0.64],[0.07,0.55],[0.09,0.42],[0.11,0.64],[0.13,0.5],[0.15,0.45]];
var llamaRight = [[0.62,0.12],[0.63,0.3],[0.61,0.47],[0.64,0.62],[0.62,0.72],[0.63,0.8],[0.65,0.05],[0.66,0.21],[0.67,0.38],[0.65,0.54],
  [0.66,0.67],[0.68,0.76],[0.67,0.84],[0.69,0.14],[0.7,0.29],[0.69,0.45],[0.71,0.6],[0.7,0.7],[0.72,0.79],[0.71,0.87],
  [0.73,0.02],[0.74,0.2],[0.73,0.36],[0.75,0.52],[0.74,0.65],[0.76,0.74],[0.75,0.82],[0.77,0.1],[0.78,0.27],[0.77,0.43],
  [0.79,0.58],[0.78,0.69],[0.8,0.78],[0.79,0.85],[0.81,0.04],[0.82,0.16],[0.81,0.33],[0.83,0.49],[0.82,0.63],[0.84,0.72],
  [0.83,0.8],[0.85,0.25],[0.86,0.4],[0.85,0.56],[0.87,0.67],[0.86,0.76],[0.88,0.09],[0.89,0.3],[0.88,0.47],[0.9,0.6],
  [0.89,0.7],[0.91,0.18],[0.92,0.38],[0.91,0.52],[0.93,0.64],[0.92,0.74],[0.94,0.02],[0.95,0.27],[0.94,0.45],[0.96,0.58],
  [0.95,0.7],[0.97,0.14],[0.97,0.33],[0.98,0.5],[0.97,0.66],[0.98,0.76],[0.84,0.38],[0.68,0.55],[0.72,0.62],[0.76,0.66],
  [0.8,0.7],[0.74,0.76],[0.7,0.8],[0.66,0.75],[0.64,0.7],
  [0.605,0.74],[0.615,0.62],[0.625,0.78],[0.635,0.68],[0.645,0.83],[0.655,0.64],[0.665,0.77],[0.675,0.7],[0.685,0.8],[0.695,0.66],
  [0.705,0.75],[0.715,0.7],[0.725,0.84],[0.735,0.64],[0.745,0.73],[0.755,0.8],[0.765,0.69],[0.775,0.78],[0.785,0.74],[0.795,0.66],
  [0.805,0.76],[0.815,0.7],[0.825,0.79],[0.835,0.67],[0.845,0.76],[0.855,0.72],[0.865,0.81],[0.875,0.62],[0.885,0.77],[0.895,0.66],
  [0.905,0.75],[0.915,0.68],[0.925,0.8],[0.935,0.55],[0.945,0.7],[0.955,0.62],[0.965,0.76],[0.975,0.45],[0.985,0.64],[0.995,0.4],
  [0.61,0.55],[0.65,0.45],[0.69,0.52],[0.73,0.46],[0.77,0.55],[0.81,0.48],[0.85,0.44],[0.89,0.53],[0.93,0.48],[0.97,0.55],
  [0.63,0.22],[0.67,0.12],[0.71,0.35],[0.75,0.18],[0.79,0.38],[0.83,0.26],[0.87,0.33],[0.91,0.08],[0.95,0.4],[0.98,0.2]];
var llamaEdge = [[1.0,0.0],[1.0,0.02],[1.0,0.03],[1.0,0.1],[1.0,0.12],[1.0,0.16],[1.0,0.18],[1.0,0.19],[1.0,0.24],[1.0,0.3],
  [1.0,0.35],[1.0,0.39],[1.0,0.43],[1.0,0.47],[1.0,0.5],[1.0,0.52],[1.0,0.55],[1.0,0.6],[1.0,0.65],[1.0,0.68],
  [1.0,0.71],[1.0,0.75],[1.0,0.78],[1.0,0.8],[1.0,0.83],[0.99,0.36],[0.99,0.05],[0.99,0.58],[0.99,0.71]];
var llamaBlob = [[0.6,0.8],[0.61,0.86],[0.62,0.83],[0.63,0.89],[0.64,0.78],[0.64,0.85],[0.65,0.81],[0.65,0.92],[0.66,0.87],[0.67,0.79],
  [0.67,0.9],[0.68,0.83],[0.68,0.94],[0.69,0.86],[0.7,0.8],[0.7,0.89],[0.71,0.84],[0.71,0.93],[0.72,0.81],[0.72,0.87],
  [0.73,0.9],[0.73,0.84],[0.74,0.79],[0.74,0.88],[0.75,0.85],[0.75,0.92],
  [0.76,0.8],[0.76,0.87],[0.76,0.94],[0.77,0.83],[0.77,0.9],[0.78,0.79],[0.78,0.86],[0.78,0.93],[0.79,0.82],[0.79,0.89],
  [0.8,0.85],[0.8,0.91],[0.8,0.97],[0.81,0.8],[0.81,0.88],[0.81,0.94],[0.82,0.83],[0.82,0.9],[0.82,0.96],[0.83,0.86],
  [0.83,0.92],[0.84,0.84],[0.84,0.89],[0.84,0.95],[0.85,0.87],[0.85,0.93],[0.85,0.98],[0.77,0.96],[0.79,0.95],[0.83,0.98],[0.8,0.81],
  [0.86,0.89],[0.86,0.94],[0.86,0.85],[0.87,0.91],[0.87,0.96],[0.87,0.88],[0.88,0.93],[0.88,0.97],[0.88,0.9],[0.89,0.86],
  [0.89,0.92],[0.89,0.95],[0.89,0.99],[0.9,0.88],[0.9,0.91],[0.9,0.94],[0.9,0.97],[0.91,0.89],[0.91,0.93],[0.91,0.96],
  [0.91,0.99],[0.92,0.9],[0.92,0.94],[0.92,0.97],[0.92,0.87],[0.93,0.91],[0.93,0.95],[0.93,0.98],[0.94,0.89],[0.94,0.93],
  [0.94,0.96],[0.94,0.99],[0.95,0.91],[0.95,0.94],[0.95,0.97],[0.95,0.88],[0.96,0.92],[0.96,0.95],[0.96,0.98],[0.96,0.9],
  [0.97,0.93],[0.97,0.96],[0.97,0.99],[0.97,0.89],[0.98,0.91],[0.98,0.94],[0.98,0.97],[0.98,0.99],[0.99,0.92],[0.99,0.95],
  [0.99,0.98],[0.99,0.9],[1.0,0.93],[1.0,0.96],[1.0,0.99],[1.0,0.88],[1.0,0.91],[1.0,0.97],[0.93,0.86],[0.96,0.85],
  [0.99,0.86],[0.88,0.83],[0.91,0.84],[0.87,0.99],[0.9,0.99],[0.95,0.99],
  [0.905,0.955],[0.915,0.915],[0.925,0.985],[0.935,0.935],[0.945,0.975],[0.955,0.925],[0.965,0.965],[0.975,0.945],[0.985,0.965],[0.995,0.935],
  [0.855,0.905],[0.865,0.965],[0.875,0.935],[0.885,0.955],[0.895,0.905],[0.835,0.955],[0.815,0.915],[0.795,0.875],[0.775,0.865],[0.755,0.895],
  [0.705,0.83],[0.715,0.88],[0.725,0.85],[0.735,0.92],[0.745,0.83],[0.755,0.88],[0.765,0.83],[0.775,0.88],[0.785,0.9],[0.795,0.84],
  [0.805,0.88],[0.815,0.84],[0.825,0.93],[0.835,0.88],[0.845,0.86],[0.855,0.95],[0.865,0.87],[0.875,0.9],[0.885,0.85],[0.895,0.97],
  [0.902,0.9],[0.908,0.94],[0.912,0.87],[0.918,0.97],[0.922,0.92],[0.928,0.96],[0.932,0.89],[0.938,0.98],[0.942,0.91],[0.948,0.96],
  [0.952,0.9],[0.958,0.97],[0.962,0.93],[0.968,0.98],[0.972,0.91],[0.978,0.96],[0.982,0.93],[0.988,0.99],[0.992,0.94],[0.998,0.97],
  [0.904,0.98],[0.914,0.95],[0.924,0.93],[0.934,0.97],[0.944,0.94],[0.954,0.96],[0.964,0.91],[0.974,0.94],[0.984,0.96],[0.994,0.9],
  [0.806,0.93],[0.826,0.87],[0.846,0.91],[0.866,0.93],[0.886,0.91],[0.816,0.96],[0.836,0.95],[0.856,0.88],[0.876,0.95],[0.896,0.87],
  [0.61,0.84],[0.63,0.81],[0.66,0.83],[0.69,0.91],[0.72,0.93],[0.74,0.86],[0.76,0.91],[0.78,0.82],[0.7,0.86],[0.67,0.86]];
var llamaLight = [[0.0,0.64],[0.01,0.42],[0.02,0.23],[0.03,0.14],[0.0,0.41],[0.05,0.7],[0.07,0.33],[0.09,0.55],[0.11,0.06],[0.13,0.78],
  [0.155,1.0],[0.17,0.4],[0.19,0.19],[0.21,0.88],[0.23,0.6],[0.25,0.13],[0.27,0.47],[0.29,0.92],[0.31,0.22],[0.33,0.65],
  [0.35,0.08],[0.37,0.78],[0.39,0.37],[0.41,0.15],[0.43,0.66],[0.45,0.53],[0.47,0.04],[0.49,0.85],[0.51,0.17],[0.53,0.72],
  [0.55,0.31],[0.57,0.02],[0.59,0.6],[0.62,0.36],[0.64,0.02],[0.66,0.93],[0.69,0.6],[0.72,0.05],[0.75,0.62],[0.78,0.14],
  [0.8,0.0],[0.83,0.6],[0.86,0.12],[0.89,0.04],[0.92,0.3],[0.95,0.77],[0.97,0.1],[1.0,0.25],[1.0,0.58],[0.9,0.82]];

var svg = d3.select("#page");
var serif = "'Liberation Serif','Times New Roman',serif";
var plotFont = "'DejaVu Sans',sans-serif";

// ---------- running header ----------
svg.append("text")
    .attr("x", 493).attr("y", 19)
    .attr("text-anchor", "middle")
    .attr("font-family", serif).attr("font-weight", "bold").attr("font-size", 19)
    .attr("textLength", 930).attr("lengthAdjust", "spacingAndGlyphs")
    .text(headerTitle);
svg.append("line")
    .attr("x1", 5).attr("x2", 981).attr("y1", 25.5).attr("y2", 25.5)
    .attr("stroke", "#000").attr("stroke-width", 2);

// ---------- table caption (justified lines) ----------
var captionLines = [
  [["i", "Table 7."], ["n", " "], ["b", "Semantic Efficiency Analysis."], ["n", " By viewing KL and PCR as costs, we observe that FAP-Synergy yields significantly higher"]],
  [["n", "interpretability per unit of behavioral degradation. "], ["b", "SCE"], ["n", " measures total semantic yield, "], ["b", "SDR"], ["n", " measures signal-to-noise in dB (closer to 0 is"]],
  [["n", "better), and "], ["b", "RAR"], ["n", " measures responsiveness relative to risk. Best results are bolded."]]
];
captionLines.forEach(function(line, i) {
  var t = svg.append("text")
      .attr("x", 8).attr("y", 77 + i * 20)
      .attr("font-family", serif).attr("font-size", 17.9).attr("fill", "#000");
  line.forEach(function(seg) {
    var s = t.append("tspan").text(seg[1]);
    if (seg[0] == "b") s.attr("font-weight", "bold");
    if (seg[0] == "i") s.attr("font-style", "italic").attr("font-family", "'Liberation Sans',Arial,sans-serif").attr("font-size", 16.5);
  });
  if (i < 2) {
    var full = line.map(function(s) { return s[1]; }).join("");
    var spaces = (full.match(/ /g) || []).length;
    var w = t.node().getComputedTextLength();
    t.attr("word-spacing", (972 - w) / spaces);
  }
});

// ---------- table ----------
function smallCaps(t, str, size) {
  var runs = [];
  for (var k = 0; k < str.length; k++) {
    var ch = str[k], sm = /[a-z]/.test(ch);
    if (runs.length && runs[runs.length - 1].sm == sm) runs[runs.length - 1].s += ch;
    else runs.push({sm: sm, s: ch});
  }
  runs.forEach(function(r) {
    t.append("tspan")
        .attr("font-size", r.sm ? size * 0.76 : size)
        .text(r.sm ? r.s.toUpperCase() : r.s);
  });
}

var colX = [134, 278, 544.5, 678, 802];
var colAnchor = ["start", "start", "middle", "middle", "middle"];
var tbl = svg.append("g").attr("font-family", serif).attr("fill", "#000");

function cell(x, y, anchor, str, bold) {
  var t = tbl.append("text").attr("x", x).attr("y", y).attr("text-anchor", anchor)
      .attr("font-size", 18).attr("letter-spacing", 0.6)
      .attr("font-weight", bold ? "bold" : "normal");
  smallCaps(t, str, 18);
}

tableHead.forEach(function(h, c) { cell(colX[c], 148, colAnchor[c], h, true); });
tableModels.forEach(function(m, g) {
  var y0 = 178 + g * 70;
  cell(colX[0], y0 + 20, "start", m, false);
  tableMetrics.forEach(function(met, r) {
    var idx = g * 3 + r, y = y0 + r * 20;
    cell(colX[1], y, "start", met, false);
    cell(colX[2], y, "middle", fapBase[idx], false);
    cell(colX[3], y, "middle", fapSynergy[idx], true);
    cell(colX[4], y, "middle", randomVals[idx], false);
  });
});
[[127.5, 1.6], [157, 0.8], [227.5, 0.8], [297, 1.6]].forEach(function(r) {
  tbl.append("line").attr("x1", 122).attr("x2", 854).attr("y1", r[0]).attr("y2", r[0])
      .attr("stroke", "#000").attr("stroke-width", r[1]);
});

// ---------- scatter panels ----------
function drawPanel(p) {
  var x = d3.scaleLinear().domain([-0.05, 1.05]).range([65, 428]);
  var y = d3.scaleLinear().domain([-0.05, 1.05]).range([p.bottom, p.top]);
  var g = svg.append("g");

  p.light.forEach(function(arr) {
    g.append("g").selectAll("circle").data(arr).join("circle")
        .attr("cx", function(d) { return x(d[0]); })
        .attr("cy", function(d) { return y(d[1]); })
        .attr("r", 2.2)
        .attr("fill", "#1f77b4").attr("fill-opacity", 0.35);
  });
  p.dark.forEach(function(arr) {
    g.append("g").selectAll("circle").data(arr).join("circle")
        .attr("cx", function(d) { return x(d[0]); })
        .attr("cy", function(d) { return y(d[1]); })
        .attr("r", 2.2)
        .attr("fill", "#1f77b4").attr("fill-opacity", 0.9);
  });

  g.append("line")
      .attr("x1", x(0)).attr("y1", y(p.fit[0]))
      .attr("x2", x(1)).attr("y2", y(p.fit[1]))
      .attr("stroke", "#ff0000").attr("stroke-width", 2);

  var xAxis = d3.axisBottom(x).tickValues(axisTicks).tickFormat(d3.format(".1f")).tickSize(3.5).tickPadding(5);
  var yAxis = d3.axisLeft(y).tickValues(axisTicks).tickFormat(d3.format(".1f")).tickSize(3.5).tickPadding(5);
  var gx = g.append("g").attr("transform", "translate(0," + p.bottom + ")").call(xAxis);
  var gy = g.append("g").attr("transform", "translate(65,0)").call(yAxis);
  [gx, gy].forEach(function(a) {
    a.select(".domain").remove();
    a.attr("font-family", plotFont).attr("font-size", 10);
    a.selectAll("line").attr("stroke", "#222").attr("stroke-width", 0.8);
    a.selectAll("text").attr("fill", "#222");
  });

  g.append("rect")
      .attr("x", 65).attr("y", p.top).attr("width", 363).attr("height", p.bottom - p.top)
      .attr("fill", "none").attr("stroke", "#222").attr("stroke-width", 0.9);

  g.append("text")
      .attr("x", 246.5).attr("y", p.top - 6.5).attr("text-anchor", "middle")
      .attr("font-family", plotFont).attr("font-size", 13).attr("fill", "#222")
      .text(p.title);
  g.append("text")
      .attr("x", 246.5).attr("y", p.bottom + 31).attr("text-anchor", "middle")
      .attr("font-family", plotFont).attr("font-size", 10.5).attr("fill", "#222")
      .text("Purity");
  g.append("text")
      .attr("transform", "translate(37," + ((p.top + p.bottom) / 2) + ") rotate(-90)")
      .attr("text-anchor", "middle")
      .attr("font-family", plotFont).attr("font-size", 10.5).attr("fill", "#222")
      .text("Responsiveness");

  var cap = g.append("text")
      .attr("x", 246.5).attr("y", p.bottom + 69).attr("text-anchor", "middle")
      .attr("font-family", serif).attr("font-size", 18).attr("fill", "#000");
  cap.append("tspan").text(p.caption[0] + " (");
  cap.append("tspan").attr("font-style", "italic").text("r");
  cap.append("tspan").text(" \u2248 " + p.caption[1] + ").");
}

drawPanel({
  top: 408, bottom: 708,
  title: "Gemma: Feature Purity vs Responsiveness",
  caption: ["(a) Gemma-2-2B", "0.71"],
  fit: gemmaFit,
  light: [gemmaLight],
  dark: [gemmaColumn, gemmaScatter, gemmaScatter2, gemmaRight, gemmaBlob, gemmaTop]
});

drawPanel({
  top: 832, bottom: 1131,
  title: "Llama: Feature Purity vs Responsiveness",
  caption: ["(b) Llama-3.2-1B", "0.73"],
  fit: llamaFit,
  light: [llamaLight],
  dark: [llamaColumn, llamaScatter, llamaScatter2, llamaBand, llamaRight, llamaEdge, llamaBlob, llamaTop]
});
</script>
</body>
</html>
